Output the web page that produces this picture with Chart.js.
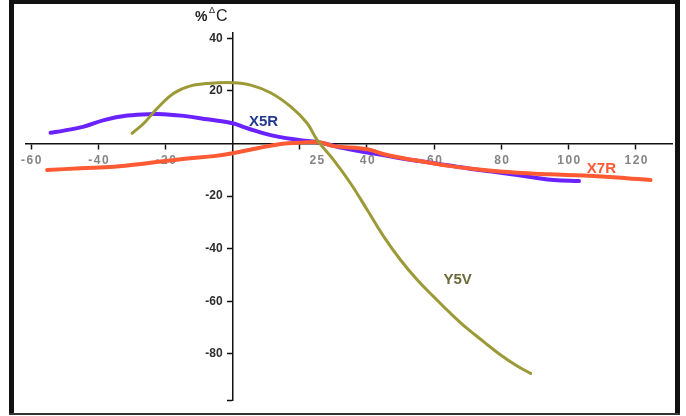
<!DOCTYPE html>
<html>
<head>
<meta charset="utf-8">
<title>%ΔC vs temperature</title>
<script src="https://cdn.jsdelivr.net/npm/chart.js@4/dist/chart.umd.min.js"></script>
<style>
  html, body { margin: 0; padding: 0; background: #fff; }
  #wrap { width: 686px; height: 416px; position: relative; }
</style>
</head>
<body>
<div id="wrap"><canvas id="c" width="686" height="416"></canvas></div>
<script>
// Capacitance change (%) against temperature for three dielectrics
const x5rTemp = [-54.2, -50.2, -44.3, -38.3, -31.3, -23.4, -20.4, -14.5, -7.5, 0, 4.4, 11.3, 19.3, 26.2, 32.1, 40.1, 50, 60, 69.8, 79.8, 89.7, 95.6, 103.1];
const x5rDelta = [4.1, 4.9, 6.4, 8.9, 10.6, 11.2, 11.1, 10.5, 9.2, 7.7, 5.8, 3.2, 1.4, 0.3, -1.5, -3.4, -5.6, -7.5, -9.4, -11.1, -12.9, -13.9, -14.3];

const x7rTemp = [-55.2, -45.2, -35.3, -25.4, -15.5, -5.6, 0, 7.4, 14.3, 19.3, 26.2, 30.1, 40.1, 46, 54.9, 64.9, 74.8, 84.7, 94.6, 104.5, 114.4, 124.4];
const x7rDelta = [-10.1, -9.4, -8.8, -7.5, -6.0, -4.8, -3.7, -1.8, -0.2, 0.3, 0.4, -1.0, -2.2, -4.4, -6.5, -8.6, -10.1, -11.1, -11.7, -12.2, -12.9, -13.9];

const y5vTemp = [-29.9, -26.4, -22.4, -17.5, -12.5, -6.5, 0, 5.4, 11.3, 17.3, 22.2, 25.2, 30.1, 35.1, 40.1, 45.0, 50, 55, 59.9, 64.9, 69.8, 74.8, 79.8, 84.7, 88.7];
const y5vDelta = [3.9, 7.7, 13.4, 19.1, 21.9, 22.9, 23.1, 22.2, 19.3, 14.0, 7.7, 1.3, -6.3, -15.1, -25.3, -35.4, -44.3, -51.9, -58.3, -64.6, -70.3, -75.4, -80.4, -84.6, -87.4];

// Axis ticks; the "25" label sits at its own value with no tick mark of its own
const xTickMarks = [-60, -40, -20, 20, 40, 60, 80, 100, 120];
const xTickLabels = ['-60', '-40', '-20', '25', '40', '60', '80', '100', '120'];
const yTickValues = [40, 20, -20, -40, -60, -80];

const seriesNames = ['X5R', 'X7R', 'Y5V'];
const seriesColors = ['#6a22ff', '#ff5a33', '#9b9a36'];
const seriesLabelColors = ['#243a8e', '#ff5a33', '#6b6a3a'];
// where each series name is written, in axis units
const seriesLabelAt = [[9.2, 8.2], [109.8, -9.7], [67, -51.9]];

const FONT = '"Liberation Sans", Arial, sans-serif';
const pts = (xs, ys) => xs.map((x, i) => ({ x, y: ys[i] }));

const frame = {
  id: 'frame',
  beforeDraw(chart) {
    const ctx = chart.ctx;
    ctx.save();
    ctx.fillStyle = '#fff';
    ctx.fillRect(0, 0, chart.width, chart.height);
    ctx.fillStyle = '#111';
    ctx.fillRect(9, 0, 671, 4);      // top
    ctx.fillRect(9, 0, 5, 415);      // left
    ctx.fillRect(675, 0, 5, 415);    // right
    ctx.fillStyle = '#333';
    ctx.fillRect(9, 413, 671, 2);    // bottom
    ctx.restore();
  }
};

const annotations = {
  id: 'annotations',
  beforeDatasetsDraw(chart) {
    const ctx = chart.ctx;
    const xs = chart.scales.x, ys = chart.scales.y;
    const x0 = xs.getPixelForValue(0), y0 = ys.getPixelForValue(0);
    ctx.save();
    // tick labels on the y axis, to the left of the axis line
    ctx.font = 'bold 12px ' + FONT;
    ctx.fillStyle = '#2e2e2e';
    ctx.textAlign = 'right';
    ctx.textBaseline = 'middle';
    yTickValues.forEach(v => ctx.fillText(String(v), x0 - 10, ys.getPixelForValue(v)));
    // tick labels on the x axis, each placed at the value it names
    ctx.fillStyle = '#858585';
    ctx.textAlign = 'center';
    if ('letterSpacing' in ctx) ctx.letterSpacing = '1.5px';
    xTickLabels.forEach(t => ctx.fillText(t, xs.getPixelForValue(Number(t)) + 1, y0 + 17));
    if ('letterSpacing' in ctx) ctx.letterSpacing = '0px';
    ctx.restore();
  },
  afterDatasetsDraw(chart) {
    const ctx = chart.ctx;
    const xs = chart.scales.x, ys = chart.scales.y;
    ctx.save();
    // axis caption %ΔC
    ctx.fillStyle = '#222';
    ctx.textBaseline = 'alphabetic';
    ctx.textAlign = 'left';
    ctx.font = 'bold 14px ' + FONT;
    ctx.fillText('%', 195, 21);
    ctx.font = '9px ' + FONT;
    ctx.fillText('Δ', 209, 13);
    ctx.font = '16px ' + FONT;
    ctx.fillText('C', 216, 21);
    // series names
    ctx.font = 'bold 15px ' + FONT;
    ctx.textAlign = 'center';
    ctx.textBaseline = 'middle';
    seriesNames.forEach((name, i) => {
      ctx.fillStyle = seriesLabelColors[i];
      ctx.fillText(name, xs.getPixelForValue(seriesLabelAt[i][0]), ys.getPixelForValue(seriesLabelAt[i][1]));
    });
    ctx.restore();
  }
};

const datasetsFrom = [[x5rTemp, x5rDelta], [x7rTemp, x7rDelta], [y5vTemp, y5vDelta]];

new Chart(document.getElementById('c'), {
  type: 'scatter',
  data: {
    datasets: datasetsFrom.map(([xs, ys], i) => ({
      label: seriesNames[i],
      data: pts(xs, ys),
      showLine: true,
      borderColor: seriesColors[i],
      backgroundColor: seriesColors[i],
      borderWidth: i === 2 ? 3 : 4,
      pointRadius: 0,
      tension: 0.4,
      borderCapStyle: 'round',
      order: 3 - i
    }))
  },
  options: {
    responsive: false,
    animation: false,
    layout: { padding: { left: 26, right: 14, top: 33, bottom: 16 } },
    plugins: { legend: { display: false }, tooltip: { enabled: false }, title: { display: false } },
    scales: {
      x: {
        type: 'linear',
        position: { y: 0 },
        min: -61.5,
        max: 130.8,
        afterBuildTicks: (s) => { s.ticks = xTickMarks.map(v => ({ value: v })); },
        ticks: { display: false, autoSkip: false },
        grid: {
          drawOnChartArea: false,
          drawTicks: true,
          tickLength: 5,
          tickWidth: 1.5,
          tickColor: '#111'
        },
        border: { display: true, color: '#111', width: 1.5 }
      },
      y: {
        type: 'linear',
        position: { x: 0 },
        min: -97.5,
        max: 42,
        afterBuildTicks: (s) => { s.ticks = [s.min].concat(yTickValues).map(v => ({ value: v })); },
        ticks: { display: false, autoSkip: false },
        grid: {
          drawOnChartArea: false,
          drawTicks: true,
          tickLength: 5,
          tickWidth: 1.5,
          tickColor: '#111'
        },
        border: { display: true, color: '#111', width: 1.5 }
      }
    }
  },
  plugins: [frame, annotations]
});
</script>
</body>
</html>
